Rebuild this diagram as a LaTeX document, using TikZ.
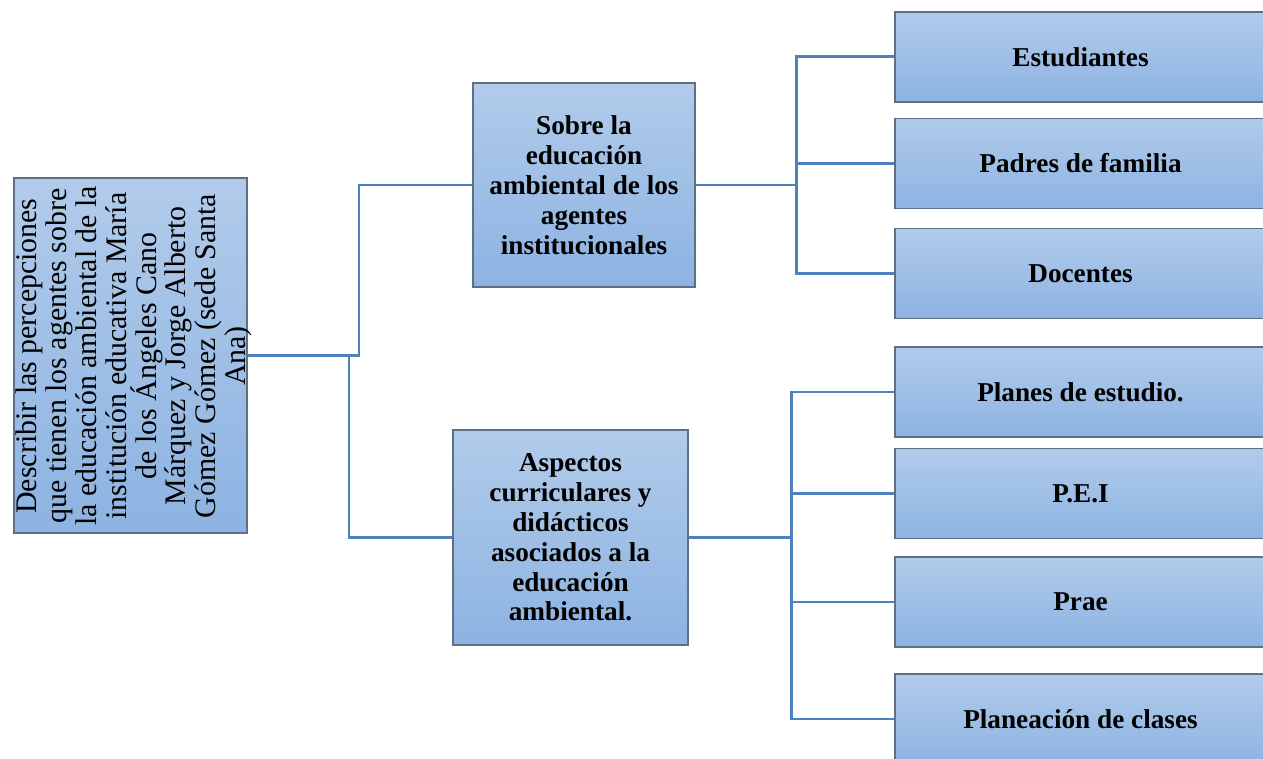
\documentclass[tikz,border=0pt]{standalone}
\usepackage{fontspec}
\setmainfont{Liberation Serif}
\definecolor{boxtop}{HTML}{B1CBEA}
\definecolor{boxbot}{HTML}{8DB3E2}
\definecolor{boxline}{HTML}{5E7184}
\definecolor{linkblue}{HTML}{4F81BD}

\begin{document}
\begin{tikzpicture}[
    x=0.02cm, y=-0.02cm,
    box/.style={rectangle, draw=boxline, line width=0.8pt, top color=boxtop, bottom color=boxbot, align=center, inner sep=2pt},
    goal/.style={box, minimum width=4.66cm, minimum height=7.1cm},
    topic/.style={box, font=\fontsize{15.5}{17}\selectfont\bfseries},
    item/.style={box, minimum width=7.42cm, minimum height=1.8cm, font=\fontsize{15.5}{17}\selectfont\bfseries},
    link/.style={draw=linkblue, line width=1.7pt}
]
\useasboundingbox (0,0) rectangle (1263,759);
\clip (0,0) rectangle (1263,759);

% Root objective (text runs upwards)
\node[goal] (root_goal) at (130.5,355.5) {};
\node[rotate=90, align=center, inner sep=0pt, font=\fontsize{17}{17}\selectfont] (root_text) at (134,356) {
    Describir las percepciones\\
    que tienen los agentes sobre\\
    la educación ambiental de la\\
    institución educativa María\\
    de los Ángeles Cano\\
    Márquez y Jorge Alberto\\
    Gómez Gómez (sede Santa\\
    Ana)
};

% Middle level
\node[topic, minimum width=4.44cm, minimum height=4.08cm] (agents_box) at (584,185) {Sobre la\\ educación\\ ambiental de los\\ agentes\\ institucionales};
\node[topic, minimum width=4.7cm, minimum height=4.3cm] (curric_box) at (570.5,537.5) {Aspectos\\ curriculares y\\ didácticos\\ asociados a la\\ educación\\ ambiental.};

% Right column
\node[item] (students) at (1080.5,57) {Estudiantes};
\node[item] (parents) at (1080.5,163.5) {Padres de familia};
\node[item] (teachers) at (1080.5,273.5) {Docentes};
\node[item] (study_plans) at (1080.5,392) {Planes de estudio.};
\node[item] (pei) at (1080.5,493.5) {P.E.I};
\node[item] (prae) at (1080.5,602) {Prae};
\node[item] (class_plans) at (1080.5,719) {Planeación de clases};

% Connectors
\coordinate (root_fork_up) at (359,355.5);
\coordinate (root_fork_low) at (349,355.5);
\coordinate (agents_fork) at (796,185);
\coordinate (curric_fork) at (791,537.5);

\draw[link] (root_goal.east) -- (root_fork_up) |- (agents_box.west);
\draw[link] (root_fork_low) |- (curric_box.west);
\foreach \leaf in {students, parents, teachers}
    \draw[link] (agents_box.east) -- (agents_fork) |- (\leaf.west);
\foreach \leaf in {study_plans, pei, prae, class_plans}
    \draw[link] (curric_box.east) -- (curric_fork) |- (\leaf.west);

\end{tikzpicture}
\end{document}
